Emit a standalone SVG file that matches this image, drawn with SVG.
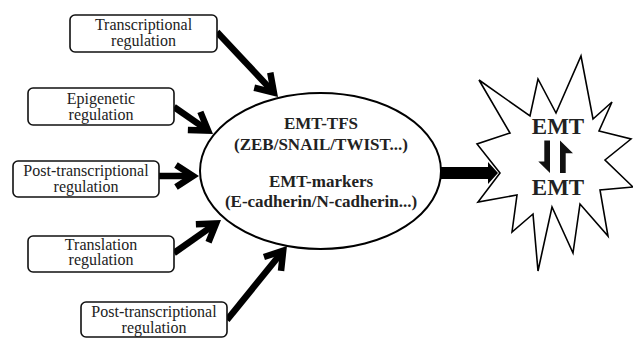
<svg xmlns="http://www.w3.org/2000/svg" width="633" height="338" viewBox="0 0 633 338">
  <defs>
    <style>
      .box { fill: #fff; stroke: #111; stroke-width: 1.6; }
      .lbl { font-size: 16px; fill: #222; text-anchor: middle; }
      .bold { font-weight: bold; fill: #222; text-anchor: middle; }
      .conn { fill: none; stroke: #000; stroke-width: 6.5; stroke-linecap: butt; }
    </style>
    <marker id="chev" markerUnits="userSpaceOnUse" markerWidth="40" markerHeight="40" viewBox="-25 -20 40 40" refX="0" refY="0" orient="auto" overflow="visible">
      <path d="M -17 -11 L 0 0 L -17 11" fill="none" stroke="#000" stroke-width="6.5" stroke-linejoin="miter" stroke-miterlimit="10"/>
    </marker>
  </defs>

  <g id="connectors">
    <path class="conn" d="M 217 32 L 273.9 92.6" marker-end="url(#chev)"/>
    <path class="conn" d="M 174 107 L 208.1 130.6" marker-end="url(#chev)"/>
    <path class="conn" d="M 159 176 L 193 176" marker-end="url(#chev)"/>
    <path class="conn" d="M 174 253 L 216.1 223.4" marker-end="url(#chev)"/>
    <path class="conn" d="M 227 320 L 283.2 250.7" marker-end="url(#chev)"/>
    <polygon points="441,167 488,167 488,162 498,173 488,184 488,179 441,179" fill="#000"/>
  </g>

  <g id="n-transcriptional" font-family="'Liberation Serif', 'DejaVu Serif', serif">
    <rect class="box" x="70" y="15" width="147" height="37" rx="5"/>
    <text class="lbl" x="143.5" y="30">Transcriptional</text>
    <text class="lbl" x="143.5" y="45.5">regulation</text>
  </g>

  <g id="n-epigenetic" font-family="'Liberation Serif', 'DejaVu Serif', serif">
    <rect class="box" x="28" y="88" width="146" height="37" rx="5"/>
    <text class="lbl" x="101" y="104">Epigenetic</text>
    <text class="lbl" x="101" y="119.5">regulation</text>
  </g>

  <g id="n-posttranscriptional-1" font-family="'Liberation Serif', 'DejaVu Serif', serif">
    <rect class="box" x="13" y="161" width="146" height="36" rx="5"/>
    <text class="lbl" x="86" y="176">Post-transcriptional</text>
    <text class="lbl" x="86" y="191.5">regulation</text>
  </g>

  <g id="n-translation" font-family="'Liberation Serif', 'DejaVu Serif', serif">
    <rect class="box" x="28" y="236" width="146" height="36" rx="5"/>
    <text class="lbl" x="101" y="249.5">Translation</text>
    <text class="lbl" x="101" y="265">regulation</text>
  </g>

  <g id="n-posttranscriptional-2" font-family="'Liberation Serif', 'DejaVu Serif', serif">
    <rect class="box" x="81" y="302" width="146" height="35" rx="5"/>
    <text class="lbl" x="154" y="317">Post-transcriptional</text>
    <text class="lbl" x="154" y="332.5">regulation</text>
  </g>

  <g id="n-emt-core" font-family="'Liberation Serif', 'DejaVu Serif', serif">
    <ellipse cx="320.5" cy="171" rx="120.5" ry="78" fill="#fff" stroke="#000" stroke-width="2"/>
    <text class="bold" x="321" y="129" font-size="17">EMT-TFS</text>
    <text class="bold" x="321" y="150" font-size="17">(ZEB/SNAIL/TWIST...)</text>
    <text class="bold" x="321" y="187" font-size="17">EMT-markers</text>
    <text class="bold" x="321" y="207" font-size="17">(E-cadherin/N-cadherin...)</text>
  </g>

  <g id="n-emt-star" font-family="'Liberation Serif', 'DejaVu Serif', serif">
    <polygon points="479,80 530,116 538,79 556,113 581,56 593,119 612,102 599,131 631,139 605,160 633,187 600,190 608,236 580,204 573,253 552,207 538,271 533,214 512,232 517,195 478,202 500,173 477,144 510,133" fill="#fff" stroke="#000" stroke-width="1.6" stroke-linejoin="miter"/>
    <text class="bold" x="558" y="133.5" font-size="23">EMT</text>
    <polygon points="544.3,140.5 550,140.5 550,173 538.3,161.5 544.3,161.5" fill="#111"/>
    <polygon points="560,140.5 573,153.3 565.7,153.3 565.7,173 560,173" fill="#111"/>
    <text class="bold" x="558" y="195" font-size="23">EMT</text>
  </g>
</svg>
